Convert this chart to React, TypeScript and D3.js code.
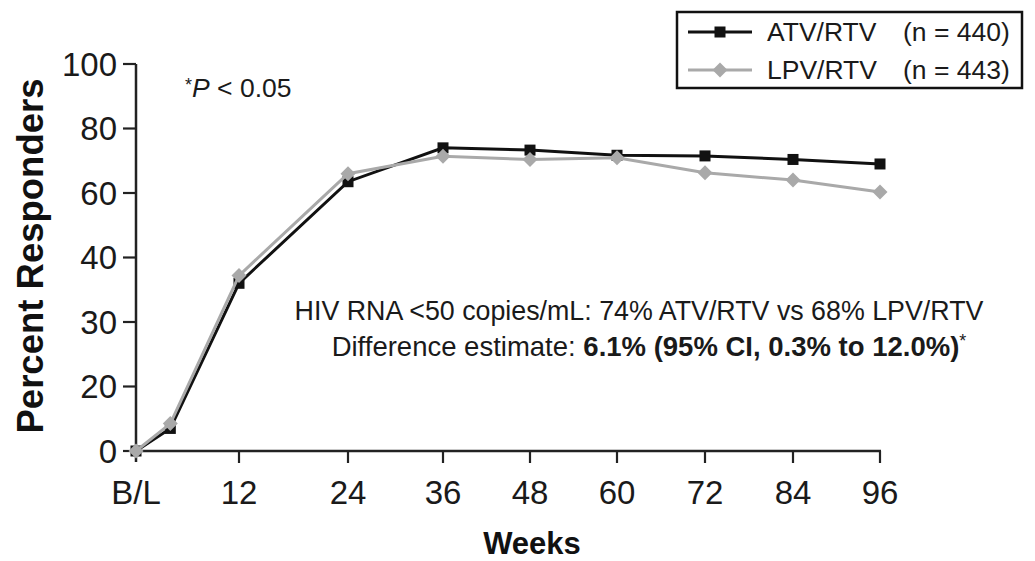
import React from "react";
import * as d3 from "d3";

const weeks = [0, 4, 12, 24, 36, 48, 60, 72, 84, 96];
const atvValues = [0, 7, 36, 63.5, 74, 73.3, 71.7, 71.5, 70.4, 69];
const lpvValues = [0, 8.5, 37.2, 66, 71.4, 70.4, 70.9, 66.3, 64, 60.3];
const xTickValues = [0, 12, 24, 36, 48, 60, 72, 84, 96];
const xTickLabels = ["B/L", "12", "24", "36", "48", "60", "72", "84", "96"];
const yTickValues = [0, 20, 30, 40, 60, 80, 100];
const seriesNames = ["ATV/RTV", "LPV/RTV"];
const seriesN = ["(n = 440)", "(n = 443)"];

const W = 1035;
const H = 561;
const FONT = "'Liberation Sans', Arial, Helvetica, sans-serif";

export default function App() {
  const x = d3
    .scaleLinear()
    .domain(xTickValues)
    .range([136, 239, 348, 443, 530, 617, 705, 793, 880]);
  const top = 64;
  const bottom = 451;
  const step = (bottom - top) / (yTickValues.length - 1);
  const y = d3
    .scaleLinear()
    .domain(yTickValues)
    .range(yTickValues.map((_, i) => bottom - i * step));

  const line = d3
    .line<number>()
    .x((_, i) => x(weeks[i]))
    .y((d) => y(d));

  const black = "#111";
  const grey = "#a9a9a9";
  const sq = 11;
  const diamond = (cx: number, cy: number, r: number) =>
    `M${cx},${cy - r}L${cx + r},${cy}L${cx},${cy + r}L${cx - r},${cy}Z`;

  return (
    <svg
      width={W}
      height={H}
      style={{ position: "absolute", left: 0, top: 0, background: "#fff" }}
      fontFamily={FONT}
    >
      <rect x={0} y={0} width={W} height={H} fill="#fff" />
      {/* axes */}
      <line x1={136} x2={136} y1={y(100)} y2={bottom + 11} stroke="#222" strokeWidth={2.5} />
      <line x1={136} x2={x(96) + 1} y1={bottom} y2={bottom} stroke="#222" strokeWidth={2.5} />
      {yTickValues.map((v) => (
        <g key={"y" + v}>
          <line x1={123} x2={136} y1={y(v)} y2={y(v)} stroke="#222" strokeWidth={2.2} />
          <text x={117} y={y(v)} dy="0.36em" textAnchor="end" fontSize={33} fill="#1a1a1a">
            {v}
          </text>
        </g>
      ))}
      {xTickValues.map((v, i) => (
        <g key={"x" + v}>
          {v !== 0 && (
            <line x1={x(v)} x2={x(v)} y1={bottom} y2={bottom + 12} stroke="#222" strokeWidth={2.2} />
          )}
          <text x={x(v)} y={504} textAnchor="middle" fontSize={33} fill="#1a1a1a">
            {xTickLabels[i]}
          </text>
        </g>
      ))}
      <text
        transform={`translate(43,256) rotate(-90)`}
        textAnchor="middle"
        fontSize={36.5}
        fontWeight="bold"
        fill="#111"
      >
        Percent Responders
      </text>
      <text x={532} y={554} textAnchor="middle" fontSize={31} fontWeight="bold" fill="#111">
        Weeks
      </text>

      {/* series */}
      <path d={line(atvValues) || ""} fill="none" stroke={black} strokeWidth={3} />
      {atvValues.map((v, i) => (
        <rect
          key={"a" + i}
          x={x(weeks[i]) - sq / 2}
          y={y(v) - sq / 2}
          width={sq}
          height={sq}
          fill={black}
        />
      ))}
      <path d={line(lpvValues) || ""} fill="none" stroke={grey} strokeWidth={3} />
      {lpvValues.map((v, i) => (
        <path key={"l" + i} d={diamond(x(weeks[i]), y(v), 7.5)} fill={grey} />
      ))}

      {/* p-value note */}
      <text x={185} y={97} fontSize={26.5} fill="#1a1a1a">
        <tspan fontSize={18} dy={-6}>*</tspan>
        <tspan fontStyle="italic" dy={6}>P</tspan>
        <tspan> &lt; 0.05</tspan>
      </text>

      {/* annotation */}
      <text x={639} y={320} textAnchor="middle" fontSize={26.8} fill="#1a1a1a">
        HIV RNA &lt;50 copies/mL: 74% ATV/RTV vs 68% LPV/RTV
      </text>
      <text x={649} y={356} textAnchor="middle" fontSize={27.5} fill="#1a1a1a">
        <tspan>Difference estimate: </tspan>
        <tspan fontWeight="bold">6.1% (95% CI, 0.3% to 12.0%)</tspan>
        <tspan fontSize={18} dy={-9}>*</tspan>
      </text>

      {/* legend */}
      <rect x={677} y={12} width={345} height={76} fill="#fff" stroke="#111" strokeWidth={2.5} />
      {seriesNames.map((name, i) => {
        const ly = 32 + i * 38;
        const col = i === 0 ? black : grey;
        return (
          <g key={name}>
            <line x1={688} x2={752} y1={ly} y2={ly} stroke={col} strokeWidth={3} />
            {i === 0 ? (
              <rect x={720 - sq / 2} y={ly - sq / 2} width={sq} height={sq} fill={col} />
            ) : (
              <path d={diamond(720, ly, 7.5)} fill={col} />
            )}
            <text x={767} y={ly + 9} fontSize={26.5} fill="#1a1a1a">
              {name}
            </text>
            <text x={903} y={ly + 9} fontSize={26.5} fill="#1a1a1a">
              {seriesN[i]}
            </text>
          </g>
        );
      })}
    </svg>
  );
}
